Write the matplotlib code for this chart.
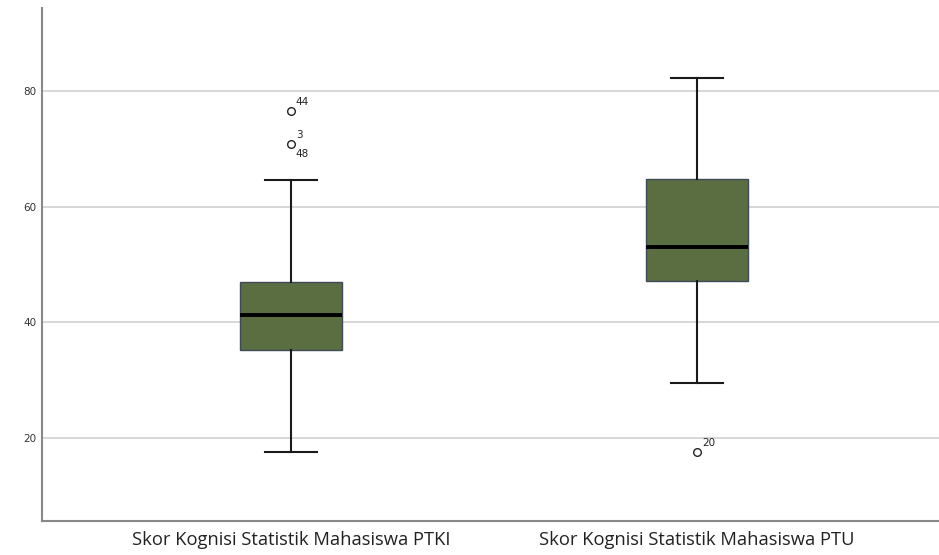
import matplotlib.pyplot as plt

# Data
groups = ["Skor Kognisi Statistik Mahasiswa PTKI", "Skor Kognisi Statistik Mahasiswa PTU"]
whisker_low = [17.6, 29.5]
q1 = [35.2, 47.1]
medians = [41.2, 53.0]
q3 = [47.0, 64.8]
whisker_high = [64.7, 82.3]

# outliers: (group index, value, case labels above, case labels below)
outlier_group = [0, 0, 1]
outlier_value = [76.6, 70.8, 17.6]
outlier_label_up = ["44", "3", "20"]
outlier_label_down = ["", "48", ""]

yticks = [20, 40, 60, 80]

fig = plt.figure(figsize=(9.39, 5.55), dpi=100)
ax = fig.add_axes([0.0447, 0.0604, 0.9553, 0.925])

stats = []
for i, g in enumerate(groups):
    fl = [v for gi, v in zip(outlier_group, outlier_value) if gi == i]
    stats.append({"label": g, "whislo": whisker_low[i], "q1": q1[i], "med": medians[i],
                  "q3": q3[i], "whishi": whisker_high[i], "fliers": fl})

positions = [1, 2]
ax.bxp(stats, positions=positions, widths=0.252, patch_artist=True,
       boxprops=dict(facecolor="#5b6e42", edgecolor="#3e4a58", linewidth=1.0),
       medianprops=dict(color="black", linewidth=2.8),
       whiskerprops=dict(color="#1a1a1a", linewidth=1.5),
       capprops=dict(color="#1a1a1a", linewidth=1.5),
       capwidths=0.127,
       flierprops=dict(marker="o", markersize=5.5, markerfacecolor="white",
                       markeredgecolor="#222222", markeredgewidth=1.0),
       zorder=3)

for gi, v, up, dn in zip(outlier_group, outlier_value, outlier_label_up, outlier_label_down):
    x = positions[gi]
    if up:
        ax.annotate(up, (x, v), xytext=(3.5, 3), textcoords="offset points",
                    fontsize=7.5, color="#222222", ha="left", va="bottom")
    if dn:
        ax.annotate(dn, (x, v), xytext=(3.5, -3), textcoords="offset points",
                    fontsize=7.5, color="#222222", ha="left", va="top")

ax.set_xlim(0.387, 2.596)
ax.set_ylim(5.55, 94.4)
ax.set_yticks(yticks)
ax.set_yticklabels([str(t) for t in yticks], fontsize=7.5, color="#333333")
ax.set_xticks(positions)
ax.set_xticklabels(groups, fontsize=13.2, color="#222222", family="Open Sans")
ax.tick_params(axis="x", length=0, pad=7)
ax.tick_params(axis="y", length=0, pad=4)

ax.yaxis.grid(True, color="#cdcdcd", linewidth=1.1, zorder=0)
ax.set_axisbelow(True)
for s in ["top", "right"]:
    ax.spines[s].set_visible(False)
for s in ["left", "bottom"]:
    ax.spines[s].set_color("#888888")
    ax.spines[s].set_linewidth(1.5)

fig.savefig("out.png", dpi=100, facecolor="white")
